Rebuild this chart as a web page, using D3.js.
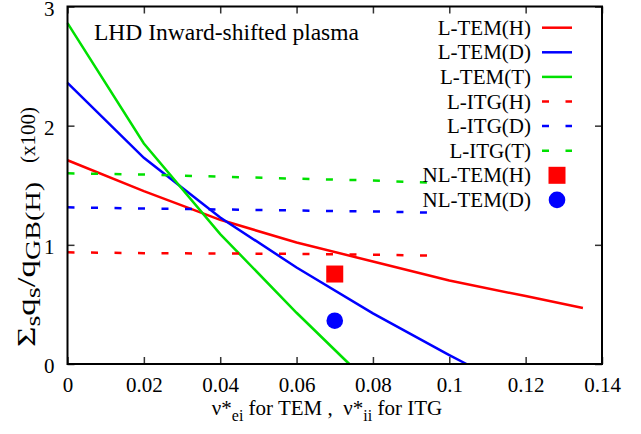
<!DOCTYPE html>
<html>
<head>
<meta charset="utf-8">
<script src="https://cdn.jsdelivr.net/npm/d3@7"></script>
<style>
  body { margin: 0; background: #fff; }
  svg { display: block; font-family: "Liberation Serif", "Times New Roman", serif; }
  text { fill: #000; }
</style>
</head>
<body>
<svg width="641" height="434"></svg>
<script>
// values
const temH_x = [0, 0.02, 0.04, 0.06, 0.08, 0.1, 0.12, 0.135];
const temH_y = [1.71, 1.45, 1.21, 1.02, 0.86, 0.70, 0.57, 0.47];
const temD_x = [0, 0.02, 0.04, 0.06, 0.08, 0.1, 0.1045];
const temD_y = [2.36, 1.73, 1.23, 0.81, 0.425, 0.075, 0];
const temT_x = [0, 0.02, 0.04, 0.06, 0.0738];
const temT_y = [2.86, 1.85, 1.09, 0.43, 0];
const itg_x = [0, 0.02, 0.04, 0.06, 0.08, 0.096];
const itgH_y = [0.937, 0.930, 0.927, 0.924, 0.917, 0.909];
const itgD_y = [1.315, 1.305, 1.297, 1.288, 1.280, 1.270];
const itgT_y = [1.600, 1.590, 1.572, 1.555, 1.540, 1.520];
const nlH = [0.07, 0.755];
const nlD = [0.07, 0.363];
const xTicks = [0, 0.02, 0.04, 0.06, 0.08, 0.1, 0.12, 0.14];
const yTicks = [0, 1, 2, 3];

const red = "#ff0000", blue = "#0000ff", green = "#00e000";
const dash = "7,16.5";

const series = [
    { name: "L-TEM(H)", xs: temH_x, ys: temH_y, color: red, dashed: false },
    { name: "L-TEM(D)", xs: temD_x, ys: temD_y, color: blue, dashed: false },
    { name: "L-TEM(T)", xs: temT_x, ys: temT_y, color: green, dashed: false },
    { name: "L-ITG(H)", xs: itg_x, ys: itgH_y, color: red, dashed: true },
    { name: "L-ITG(D)", xs: itg_x, ys: itgD_y, color: blue, dashed: true },
    { name: "L-ITG(T)", xs: itg_x, ys: itgT_y, color: green, dashed: true }
];

const svg = d3.select("svg");
const pL = 67.5, pR = 602, pT = 6.5, pB = 364;

const x = d3.scaleLinear().domain([0, 0.14]).range([pL, pR]);
const y = d3.scaleLinear().domain([0, 3]).range([pB, pT]);

const plot = svg.append("g");

// lines
const line = d3.line()
    .x(function (d) { return x(d[0]); })
    .y(function (d) { return y(d[1]); });

series.forEach(function (s) {
    const pts = s.xs.map(function (v, i) { return [v, s.ys[i]]; });
    plot.append("path")
        .attr("d", line(pts))
        .attr("fill", "none")
        .attr("stroke", s.color)
        .attr("stroke-width", 2.5)
        .attr("stroke-dasharray", s.dashed ? dash : null);
});

// nonlinear points
plot.append("rect")
    .attr("x", x(nlH[0]) - 8.5).attr("y", y(nlH[1]) - 8.5)
    .attr("width", 17).attr("height", 17)
    .attr("fill", red);
plot.append("circle")
    .attr("cx", x(nlD[0])).attr("cy", y(nlD[1])).attr("r", 8.3)
    .attr("fill", blue);

// axes (ticks inside, mirrored)
const fs = "21px";
svg.append("g").attr("transform", `translate(0,${pB})`)
    .call(d3.axisBottom(x).tickValues(xTicks).tickSize(-7).tickPadding(13)
        .tickFormat(function (d) { return String(+d.toFixed(2)); }))
    .call(function (g) { g.select(".domain").remove(); })
    .selectAll("text").attr("font-size", fs).attr("font-family", "Liberation Serif");
svg.append("g").attr("transform", `translate(0,${pT})`)
    .call(d3.axisTop(x).tickValues(xTicks).tickSize(-7).tickFormat(""))
    .call(function (g) { g.select(".domain").remove(); });
svg.append("g").attr("transform", `translate(${pL},0)`)
    .call(d3.axisLeft(y).tickValues(yTicks).tickSize(-7).tickPadding(13).tickFormat(d3.format("d")))
    .call(function (g) { g.select(".domain").remove(); })
    .selectAll("text").attr("font-size", fs).attr("font-family", "Liberation Serif")
    .attr("dy", "0.42em");
svg.append("g").attr("transform", `translate(${pR},0)`)
    .call(d3.axisRight(y).tickValues(yTicks).tickSize(-7).tickFormat(""))
    .call(function (g) { g.select(".domain").remove(); });
svg.selectAll(".tick line").attr("stroke", "#333").attr("stroke-width", 1.5);

svg.append("rect")
    .attr("x", pL).attr("y", pT)
    .attr("width", pR - pL).attr("height", pB - pT)
    .attr("fill", "none").attr("stroke", "#000").attr("stroke-width", 2);

// title inside plot
svg.append("text").attr("x", 94).attr("y", 40)
    .attr("font-size", "23.5px").text("LHD Inward-shifted plasma");

// legend
const legX = 531, rowY0 = 27.7, rowH = 24.6;
const legend = svg.append("g");
series.forEach(function (s, i) {
    const cy = rowY0 + i * rowH;
    legend.append("text").attr("x", legX).attr("y", cy + 7)
        .attr("text-anchor", "end").attr("font-size", fs).text(s.name);
    legend.append("line")
        .attr("x1", 542).attr("x2", 572).attr("y1", cy).attr("y2", cy)
        .attr("stroke", s.color).attr("stroke-width", 2.5)
        .attr("stroke-dasharray", s.dashed ? dash : null);
});
let cy = rowY0 + 6 * rowH;
legend.append("text").attr("x", legX).attr("y", cy + 7)
    .attr("text-anchor", "end").attr("font-size", fs).text("NL-TEM(H)");
legend.append("rect").attr("x", 557 - 8.5).attr("y", cy - 8.5)
    .attr("width", 17).attr("height", 17).attr("fill", red);
cy = rowY0 + 7 * rowH;
legend.append("text").attr("x", legX).attr("y", cy + 7)
    .attr("text-anchor", "end").attr("font-size", fs).text("NL-TEM(D)");
legend.append("circle").attr("cx", 557).attr("cy", cy).attr("r", 8.3).attr("fill", blue);

// axis titles
const xl = svg.append("text").attr("x", 327).attr("y", 415)
    .attr("text-anchor", "middle").attr("font-size", fs);
xl.append("tspan").text("ν*");
xl.append("tspan").attr("dy", 6).attr("font-size", "16px").text("ei");
xl.append("tspan").attr("dy", -6).text(" for TEM ,\u00a0\u00a0ν*");
xl.append("tspan").attr("dy", 6).attr("font-size", "16px").text("ii");
xl.append("tspan").attr("dy", -6).text(" for ITG");

const yl = svg.append("text").attr("transform", "translate(35,347) rotate(-90)")
    .attr("font-size", "25px")
    .attr("textLength", 165).attr("lengthAdjust", "spacingAndGlyphs");
yl.append("tspan").text("Σ");
yl.append("tspan").attr("dy", 5).attr("font-size", "20px").text("s");
yl.append("tspan").attr("dy", -5).text("q");
yl.append("tspan").attr("dy", 5).attr("font-size", "20px").text("s");
yl.append("tspan").attr("dy", -5).text("/q");
yl.append("tspan").attr("dy", 5).attr("font-size", "20px").text("GB(H)");
svg.append("text").attr("transform", "translate(35,163) rotate(-90)")
    .attr("font-size", fs).text("(x100)");
</script>
</body>
</html>
